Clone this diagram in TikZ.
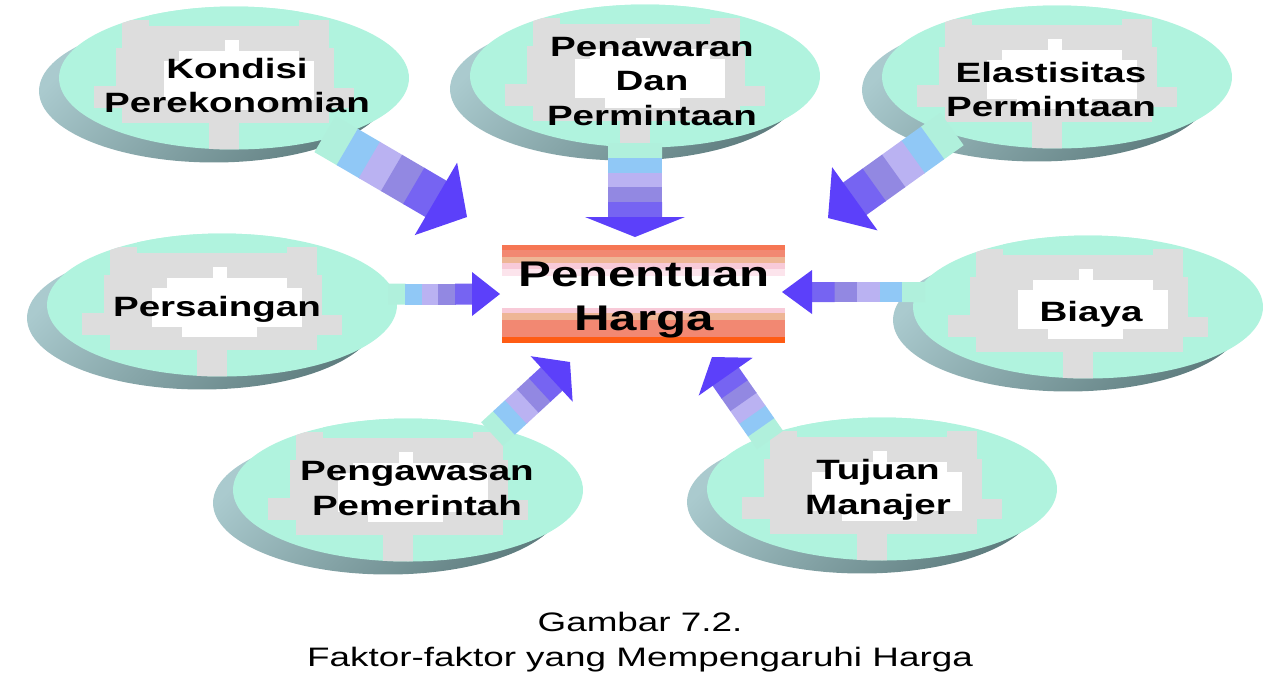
\documentclass[tikz,border=0pt]{standalone}
\usepackage{fontspec}
\setmainfont{Liberation Sans}[FakeStretch=1.38]
\usetikzlibrary{shapes.geometric,shadows,calc}

\definecolor{ovaqua}{RGB}{176,243,222}
\definecolor{ovgray}{RGB}{221,221,221}
\definecolor{shlight}{RGB}{170,202,206}
\definecolor{shdark}{RGB}{96,126,128}
\definecolor{hubA}{RGB}{246,118,84}
\definecolor{hubB}{RGB}{242,136,114}
\definecolor{hubC}{RGB}{238,182,150}
\definecolor{hubD}{RGB}{248,202,216}
\definecolor{hubE}{RGB}{252,228,236}
\definecolor{hubF}{RGB}{255,92,20}
\definecolor{arA}{RGB}{176,240,220}
\definecolor{arB}{RGB}{144,200,246}
\definecolor{arC}{RGB}{186,178,242}
\definecolor{arD}{RGB}{146,136,226}
\definecolor{arE}{RGB}{118,100,242}
\definecolor{arH}{RGB}{92,64,250}

\newcommand{\blockarrow}[5]{%
        \coordinate (hb) at ($(#2)!#5!(#1)$);
        \foreach \c [count=\i from 0] in {arA,arB,arC,arD,arE} {
          \coordinate (s) at ($(#1)!{\i/5}!(hb)$);
          \coordinate (e) at ($(#1)!{(\i+1)/5+0.01}!(hb)$);
          \fill[\c] ($(s)!#3!90:(#2)$) -- ($(e)!#3!90:(#2)$)
          -- ($(e)!#3!-90:(#2)$) -- ($(s)!#3!-90:(#2)$) -- cycle;
        }
        \fill[arH] ($(hb)!#4!90:(#2)$) -- (#2) -- ($(hb)!#4!-90:(#2)$) -- cycle;
}

\begin{document}
\begin{tikzpicture}[x=0.02cm,y=-0.02cm,
        oval/.style={ellipse,minimum width=7cm,minimum height=2.86cm,inner sep=0pt,
          fill=ovaqua,
          general shadow={shadow xshift=-0.4cm,shadow yshift=-0.26cm,
            top color=shlight,bottom color=shdark,shading angle=45},
          path picture={
              \fill[ovgray] (-112,-58) rectangle (95,45);
              \fill[ovgray] (-140,-30) rectangle (120,30);
              \fill[ovaqua] (-140,-30) rectangle (-118,8);
              \fill[ovaqua] (100,-40) rectangle (120,10);
              \fill[ovgray] (-25,40) rectangle (5,80);
              \fill[ovaqua] (-85,-90) rectangle (65,-52);
              \fill[white] (-70,-17) rectangle (80,22);
              \fill[white] (-55,-27) rectangle (65,-16);
              \fill[white] (-9,-38) rectangle (5,-26);
              \fill[white] (-40,21) rectangle (35,32);}},
        lbl/.style={align=center,inner sep=0pt,font=\bfseries\fontsize{15.9}{19.9}\selectfont},
        hub/.style={rectangle,minimum width=5.66cm,minimum height=1.96cm,inner sep=0pt,fill=white,
          path picture={
              \fill[hubA] (-142,-49) rectangle (142,-44);
              \fill[hubB] (-142,-44) rectangle (142,-37);
              \fill[hubC] (-142,-37) rectangle (142,-31);
              \fill[hubD] (-142,-31) rectangle (142,-25);
              \fill[hubE] (-142,-25) rectangle (142,-18);
              \fill[hubD] (-142,14) rectangle (142,19);
              \fill[hubC] (-142,19) rectangle (142,26);
              \fill[hubB] (-142,26) rectangle (142,43);
              \fill[hubF] (-142,43) rectangle (142,49);}}]
        \useasboundingbox (0,0) rectangle (1280,684);

        \node[oval] (e1) at (234,78) {};
        \node[oval] (e2) at (645,76) {};
        \node[oval] (e3) at (1057,77) {};
        \node[oval] (e4) at (222,305) {};
        \node[oval] (e5) at (1088,307) {};
        \node[oval] (e6) at (408,490) {};
        \node[oval] (e7) at (882,489) {};

        \node[hub] (hub) at (643.5,294) {};

        \coordinate (t1) at (325,134);
        \coordinate (p1) at (467,217);
        \coordinate (t2) at (635,143);
        \coordinate (p2) at (635,237);
        \coordinate (t3) at (952,129);
        \coordinate (p3) at (828,218);
        \coordinate (t4) at (388,294);
        \coordinate (p4) at (500,294);
        \coordinate (t5) at (925,292);
        \coordinate (p5) at (782,292);
        \coordinate (t6) at (492,434);
        \coordinate (p6) at (570,362);
        \coordinate (t7) at (770,440);
        \coordinate (p7) at (712,357);

        \blockarrow{t1}{p1}{0.42cm}{0.84cm}{0.72cm}
        \blockarrow{t2}{p2}{0.54cm}{1cm}{0.4cm}
        \blockarrow{t3}{p3}{0.4cm}{0.78cm}{0.66cm}
        \blockarrow{t4}{p4}{0.21cm}{0.44cm}{0.56cm}
        \blockarrow{t5}{p5}{0.2cm}{0.44cm}{0.6cm}
        \blockarrow{t6}{p6}{0.32cm}{0.62cm}{0.5cm}
        \blockarrow{t7}{p7}{0.32cm}{0.66cm}{0.48cm}

        \node[lbl] (l1) at (237,85.5) {Kondisi\\Perekonomian};
        \node[lbl] (l2) at (652,81.5) {Penawaran\\Dan\\Permintaan};
        \node[lbl] (l3) at (1051,89.5) {Elastisitas\\Permintaan};
        \node[lbl] (l4) at (217,309) {Persaingan};
        \node[lbl] (l5) at (1091,314) {Biaya};
        \node[lbl] (l6) at (417,488.5) {Pengawasan\\Pemerintah};
        \node[lbl] (l7) at (878,490) {Tujuan\\Manajer};

        \node[align=center,inner sep=0pt,font=\bfseries\fontsize{20.3}{25.6}\selectfont]
        (hubtext) at (644,300) {Penentuan\\Harga};

        \node[align=center,inner sep=0pt,font=\fontsize{15.2}{19.9}\selectfont]
        (cap) at (640,642) {Gambar 7.2.\\Faktor-faktor yang Mempengaruhi Harga};

      \end{tikzpicture}
\end{document}
